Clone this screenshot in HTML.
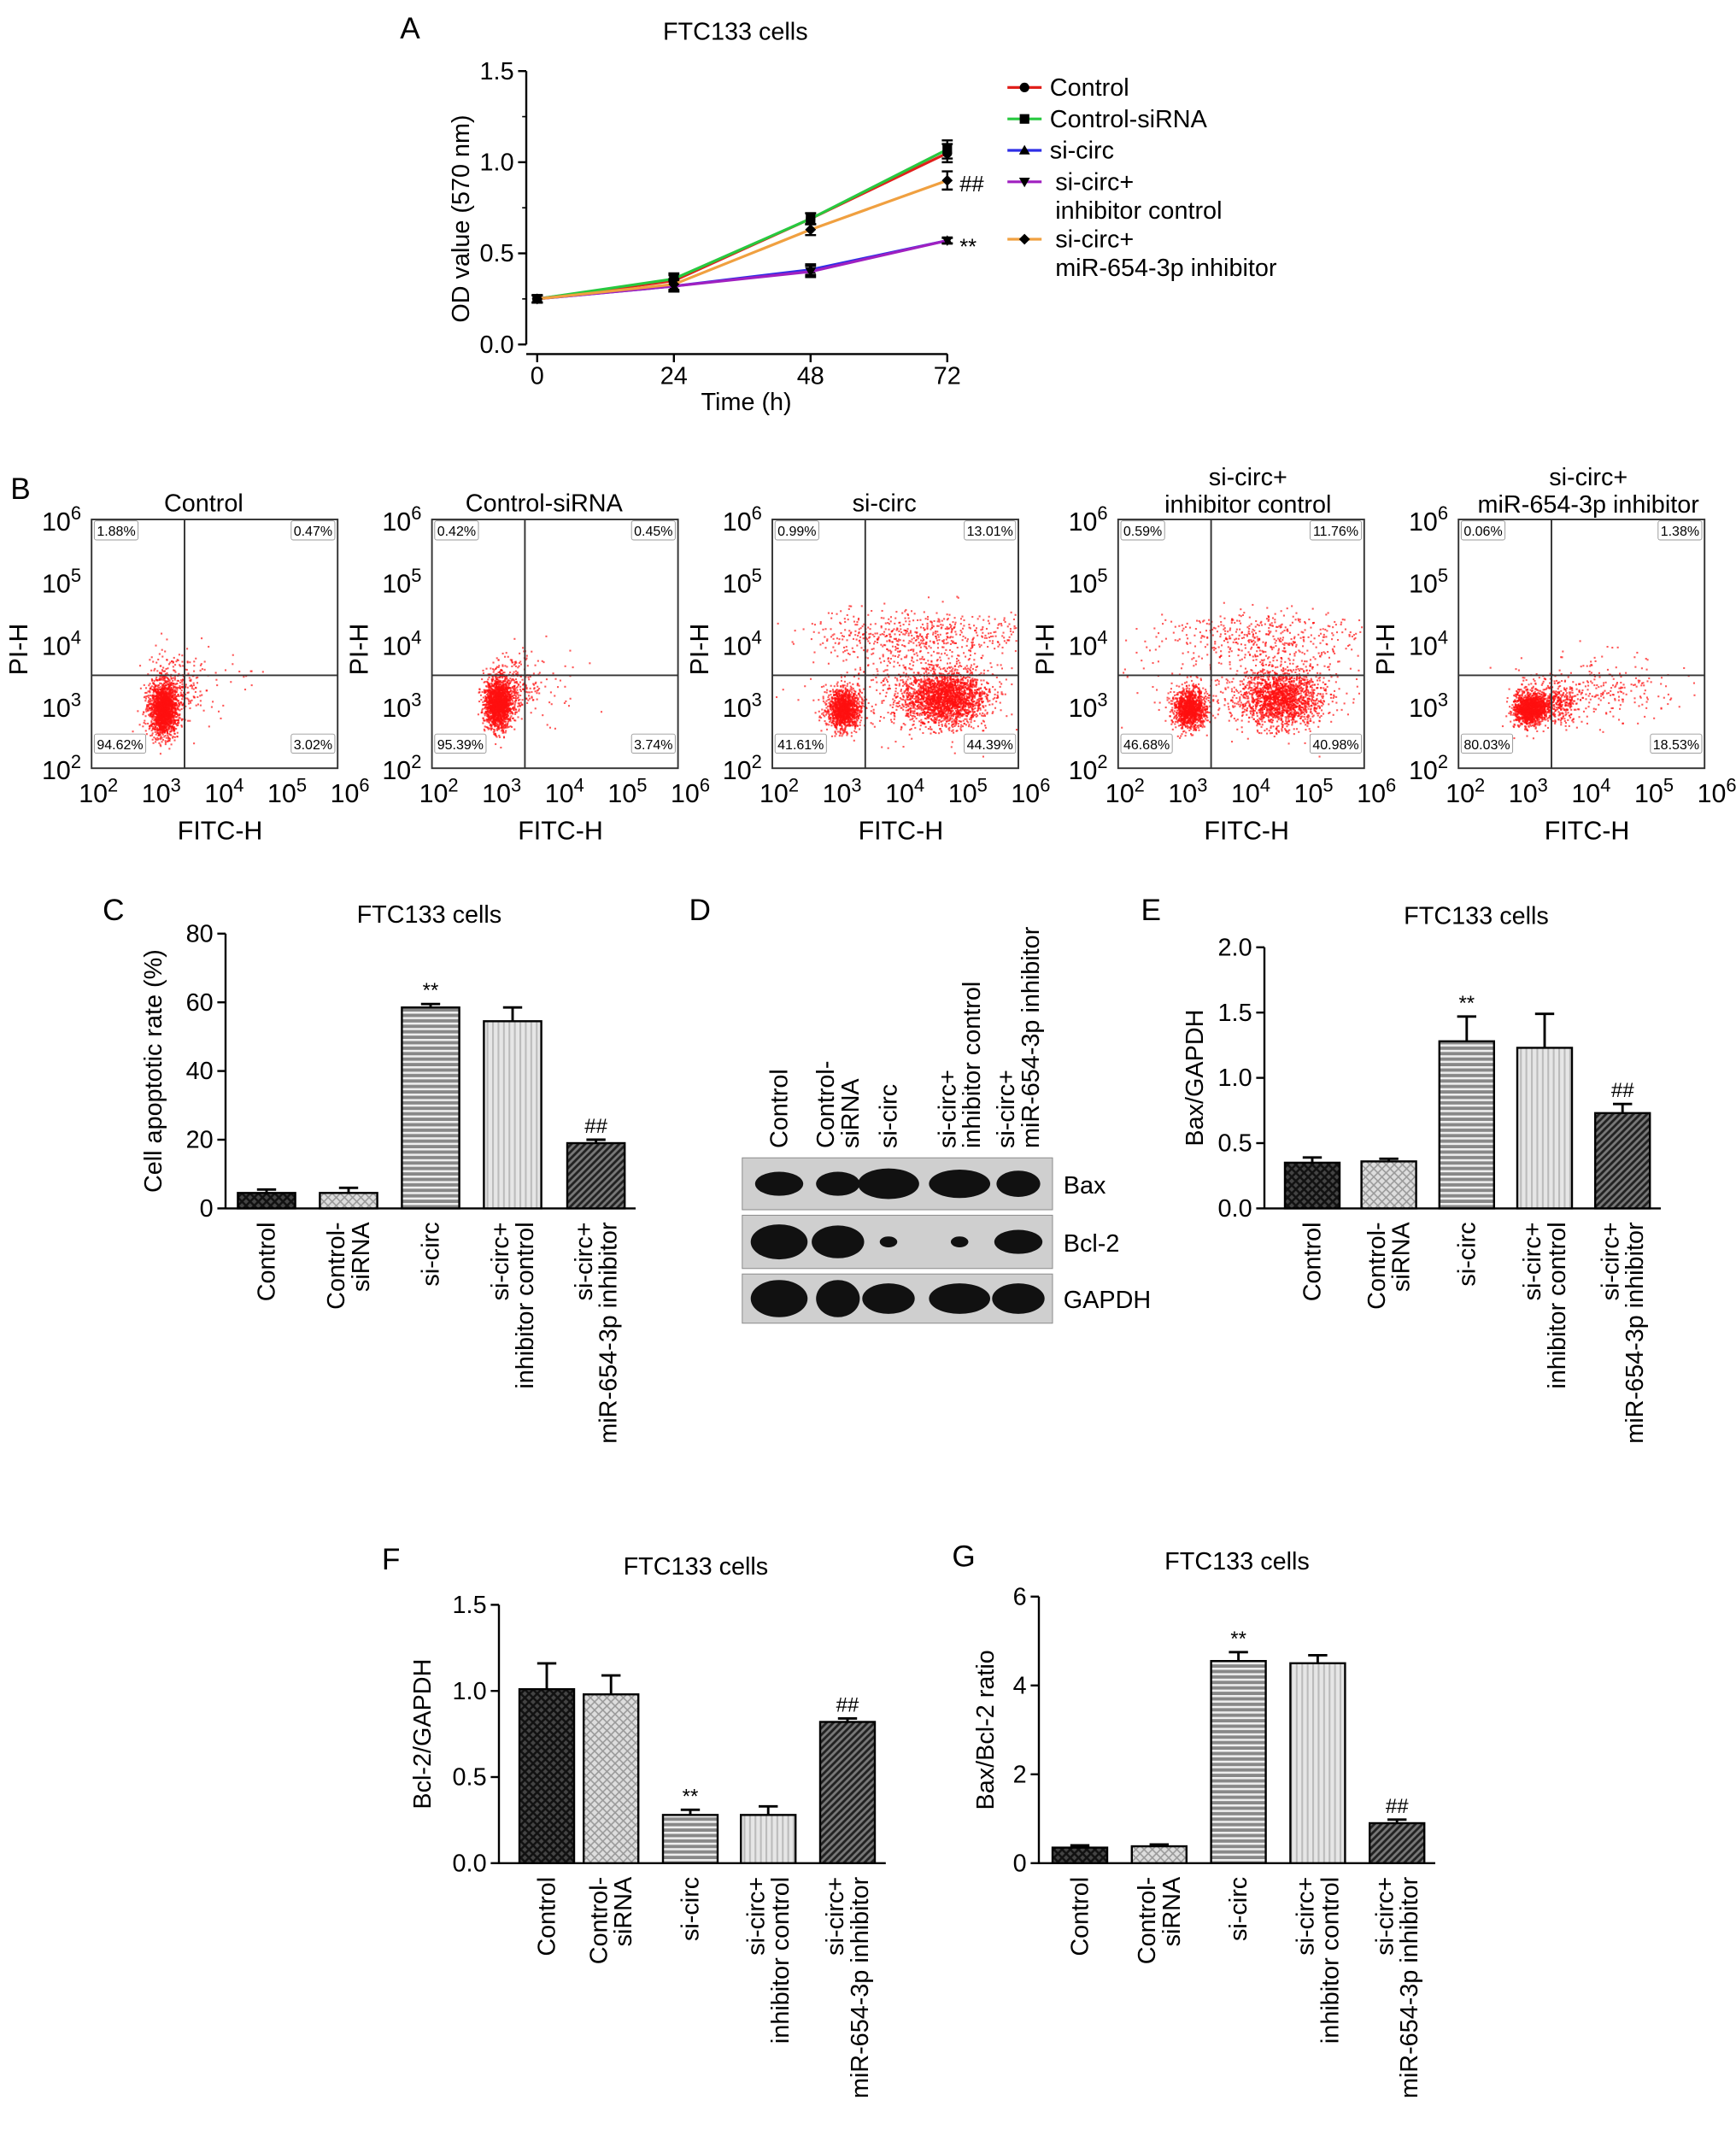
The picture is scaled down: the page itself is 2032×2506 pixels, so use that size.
<!DOCTYPE html>
<html><head><meta charset="utf-8"><style>
html,body{margin:0;padding:0;background:#fff}
svg{display:block;font-family:"Liberation Sans",Arial,sans-serif}
</style></head><body>
<svg id="fig" width="2032" height="2506" viewBox="0 0 1270 1566.25" xmlns="http://www.w3.org/2000/svg">
<defs>
<pattern id="pCross" width="6" height="6" patternUnits="userSpaceOnUse"><rect width="6" height="6" fill="#444"/><path d="M0 0L6 6M6 0L0 6" stroke="#111" stroke-width="1.6"/></pattern>
<pattern id="pCheck" width="6" height="6" patternUnits="userSpaceOnUse"><rect width="6" height="6" fill="#ddd"/><path d="M0 0L6 6M6 0L0 6" stroke="#999" stroke-width="1"/></pattern>
<pattern id="pHor" width="6" height="4" patternUnits="userSpaceOnUse"><rect width="6" height="4" fill="#888"/><rect y="0" width="6" height="1.6" fill="#eee"/></pattern>
<pattern id="pVer" width="4" height="6" patternUnits="userSpaceOnUse"><rect width="4" height="6" fill="#e6e6e6"/><rect x="0" width="1.3" height="6" fill="#bbb"/></pattern>
<pattern id="pDiag" width="5" height="5" patternUnits="userSpaceOnUse"><rect width="5" height="5" fill="#777"/><path d="M-1 6L6 -1M-1 1L1 -1M4 6L6 4" stroke="#222" stroke-width="1.8"/></pattern>
</defs>
</svg>
<script>
// ---------- data ----------
const timeTicks=[0,24,48,72];
const odControl=[0.25,0.35,0.69,1.05];
const odControlSi=[0.25,0.36,0.69,1.07];
const odSiCirc=[0.25,0.32,0.41,0.57];
const odInhCtrl=[0.25,0.32,0.40,0.57];
const odMiRInh=[0.25,0.33,0.63,0.90];
const odErr=[0.02,0.03,0.03,0.05];
const seriesNames=["Control","Control-siRNA","si-circ","si-circ+ inhibitor control","si-circ+ miR-654-3p inhibitor"];
const flowTitles=[["Control"],["Control-siRNA"],["si-circ"],["si-circ+","inhibitor control"],["si-circ+","miR-654-3p inhibitor"]];
const flowUL=["1.88%","0.42%","0.99%","0.59%","0.06%"];
const flowUR=["0.47%","0.45%","13.01%","11.76%","1.38%"];
const flowLL=["94.62%","95.39%","41.61%","46.68%","80.03%"];
const flowLR=["3.02%","3.74%","44.39%","40.98%","18.53%"];
const apopRate=[4.5,4.5,58.5,54.5,19];
const apopErr=[1,1.5,1,4,1];
const baxVals=[0.35,0.36,1.28,1.23,0.73];
const baxErr=[0.04,0.02,0.19,0.26,0.07];
const bclVals=[1.01,0.98,0.28,0.28,0.82];
const bclErr=[0.15,0.11,0.03,0.05,0.02];
const ratioVals=[0.35,0.38,4.55,4.5,0.9];
const ratioErr=[0.05,0.04,0.2,0.18,0.08];
const barLabels=[["Control"],["Control-","siRNA"],["si-circ"],["si-circ+","inhibitor control"],["si-circ+","miR-654-3p inhibitor"]];
const apopTicks=[0,20,40,60,80];
const baxTicks=[0,0.5,1.0,1.5,2.0];
const bclTicks=[0,0.5,1.0,1.5];
const ratioTicks=[0,2,4,6];
// ---------- helpers ----------
const NS="http://www.w3.org/2000/svg";
const svg=document.getElementById('fig');
function mk(tag,attrs,name,parent,txt){
  const el=document.createElementNS(NS,tag);
  for(const k in attrs) el.setAttribute(k,attrs[k]);
  
  
  if(txt!==undefined) el.textContent=txt;
  (parent||svg).appendChild(el);return el;
}
function txt(x,y,s,size,name,opt){opt=opt||{};
  const a={x:x,y:y,'font-size':size,'text-anchor':opt.anchor||'middle',fill:'#000'};
  if(opt.rot) a.transform=`rotate(${opt.rot} ${x} ${y})`;
  if(opt.weight) a['font-weight']=opt.weight;
  return mk('text',a,name,opt.parent,s);}
function pow10(x,y,e,size,name,anchor){
  const t=mk('text',{x:x,y:y,'font-size':size,'text-anchor':anchor||'middle'},name);
  const a=document.createElementNS(NS,'tspan');a.textContent='10';t.appendChild(a);
  const b=document.createElementNS(NS,'tspan');b.textContent=e;b.setAttribute('dy',-8);b.setAttribute('font-size',size*0.72);t.appendChild(b);
  return t;}
// ---------- Panel A ----------
(function(){
  const g=mk('g',{},'panel-a-line-chart');
  const xs=v=>393+v*(300/72), ys=v=>252-v*(200/1.5);
  txt(300,28,'A',22,'panel-a-label');
  txt(538,29,'FTC133 cells',18,'panel-a-title');
  mk('line',{x1:385,y1:ys(1.5),x2:385,y2:ys(0),stroke:'#000','stroke-width':1.5},'y-axis',g);
  mk('line',{x1:385,y1:259,x2:xs(72),y2:259,stroke:'#000','stroke-width':1.5},'x-axis',g);
  [0,0.5,1.0,1.5].forEach(v=>{mk('line',{x1:379,x2:385,y1:ys(v),y2:ys(v),stroke:'#000','stroke-width':1.5},'y-tick',g);
    txt(376,ys(v)+6,v.toFixed(1),18,'y-tick-label',{anchor:'end'});});
  [0.25,0.75,1.25].forEach(v=>mk('line',{x1:382,x2:385,y1:ys(v),y2:ys(v),stroke:'#000'},'y-minor-tick',g));
  timeTicks.forEach(v=>{mk('line',{x1:xs(v),x2:xs(v),y1:259,y2:265,stroke:'#000','stroke-width':1.5},'x-tick',g);
    txt(xs(v),281,String(v),18,'x-tick-label');});
  txt(546,300,'Time (h)',18,'x-axis-title');
  txt(343,160,'OD value (570 nm)',18,'y-axis-title',{rot:-90});
  const S=[[odControl,'#e0201b','circle'],[odControlSi,'#27c93f','square'],[odSiCirc,'#2e2ee6','tri'],[odInhCtrl,'#a020c0','tridown'],[odMiRInh,'#f0a040','diamond']];
  function marker(x,y,shape,name,parent){
    if(shape==='circle')mk('circle',{cx:x,cy:y,r:3.5,fill:'#000'},name,parent);
    else if(shape==='square')mk('rect',{x:x-3.5,y:y-3.5,width:7,height:7,fill:'#000'},name,parent);
    else if(shape==='tri')mk('path',{d:`M${x} ${y-4}L${x+4} ${y+3}L${x-4} ${y+3}Z`,fill:'#000'},name,parent);
    else if(shape==='tridown')mk('path',{d:`M${x} ${y+4}L${x+4} ${y-3}L${x-4} ${y-3}Z`,fill:'#000'},name,parent);
    else mk('path',{d:`M${x} ${y-4}L${x+4} ${y}L${x} ${y+4}L${x-4} ${y}Z`,fill:'#000'},name,parent);}
  S.forEach((s,i)=>{const sg=mk('g',{},'series-'+i,g);
    mk('polyline',{points:s[0].map((v,j)=>xs(timeTicks[j])+','+ys(v)).join(' '),fill:'none',stroke:s[1],'stroke-width':2},'series-line',sg);
    s[0].forEach((v,j)=>{const e=(i===2||i===3)&&j===3?0.015:odErr[j];const x=xs(timeTicks[j]);
      mk('path',{d:`M${x} ${ys(v-e)}V${ys(v+e)}M${x-4} ${ys(v+e)}H${x+4}M${x-4} ${ys(v-e)}H${x+4}`,stroke:'#000','stroke-width':1.5,fill:'none'},'error-bar',sg);
      marker(x,ys(v),s[2],'data-point',sg);});});
  txt(702,140,'##',16,'sig-hash-a',{anchor:'start'});
  txt(702,186,'**',16,'sig-star-a',{anchor:'start'});
  const L=mk('g',{},'legend',g);
  const ly=[64,87,110,133,175];
  S.forEach((s,i)=>{const y=ly[i];
    mk('line',{x1:737,x2:762,y1:y,y2:y,stroke:s[1],'stroke-width':2},'legend-swatch',L);
    marker(749.5,y,s[2],'legend-marker',L);
    if(i<3) txt(768,y+6,seriesNames[i],18,'legend-entry',{anchor:'start',parent:L});
    else {txt(772,y+6,'si-circ+',18,'legend-entry',{anchor:'start',parent:L});
      txt(772,y+27,i===3?'inhibitor control':'miR-654-3p inhibitor',18,'legend-entry',{anchor:'start',parent:L});}
  });
})();
// ---------- Panel B ----------
let seed=12345;function rnd(){seed=(seed*1103515245+12345)%2147483648;return seed/2147483648;}
function gauss(){return Math.sqrt(-2*Math.log(rnd()+1e-9))*Math.cos(2*Math.PI*rnd());}
(function(){
  txt(15,365,'B',22,'panel-b-label');
  const lefts=[67,316,565,818,1067];
  const clouds=[
    [[52,138,5,10,1800],[60,125,9,14,250],[75,120,20,15,60]],
    [[48,134,5,9,1700],[58,122,9,12,250],[75,120,20,15,50]],
    [[52,138,6,7,1300],[125,130,15,10,2200],[110,84,40,9,500],[100,115,40,20,400]],
    [[52,138,6,7,1200],[118,130,15,10,1700],[108,86,35,10,400],[100,115,40,20,300]],
    [[52,138,6,6,1300],[70,134,10,7,400],[100,122,28,12,250]]];
  lefts.forEach((L,p)=>{
    const g=mk('g',{},'flow-plot-'+(p+1));
    const T=380,B=562,R=L+180,qx=L+68,qy=494;
    const tl=flowTitles[p];
    if(tl.length===1) txt(L+82,374,tl[0],18,'flow-title',{parent:g});
    else {txt(L+95,355,tl[0],18,'flow-title',{parent:g});txt(L+95,375,tl[1],18,'flow-title',{parent:g});}
    const cg=mk('g',{fill:'#ff1010'},'scatter-cloud',g);
    clouds[p].forEach(c=>{for(let k=0;k<c[4];k++){const x=L+c[0]+gauss()*c[2],y=T+c[1]+gauss()*c[3];
      if(x>L+1&&x<R-1&&y>T+1&&y<B-1){mk('rect',{x:x,y:y,width:1.3,height:1.3,opacity:0.7},'event-dot',cg);}}});
    mk('rect',{x:L,y:T,width:180,height:182,fill:'none',stroke:'#333','stroke-width':1.2},'plot-frame',g);
    mk('line',{x1:qx,x2:qx,y1:T,y2:B,stroke:'#333','stroke-width':1.2},'quadrant-vline',g);
    mk('line',{x1:L,x2:R,y1:qy,y2:qy,stroke:'#333','stroke-width':1.2},'quadrant-hline',g);
    const box=(x,y,s,anchor,name)=>{const w=s.length*5.6+4;const bx=anchor==='start'?x:x-w;
      mk('rect',{x:bx,y:y-10,width:w,height:14,fill:'#fff',stroke:'#999','stroke-width':0.6,rx:1.5},name+'-box',g);
      txt(bx+w/2,y+1,s,10,name,{parent:g});};
    box(L+2,391,flowUL[p],'start','pct-upper-left');
    box(R-2,391,flowUR[p],'end','pct-upper-right');
    box(L+2,547,flowLL[p],'start','pct-lower-left');
    box(R-2,547,flowLR[p],'end','pct-lower-right');
    const exps=['2','3','4','5','6'];
    exps.forEach((e,i)=>{const y=B-i*45.5;pow10(L-22,y+8,e,19,'y-tick-label','middle');
      const x=L+5+i*46;pow10(x,587,e,19,'x-tick-label','middle');});
    txt(L-47,475,'PI-H',19,'y-axis-title',{rot:-90,parent:g});
    txt(L+94,614,'FITC-H',19,'x-axis-title',{parent:g});
  });
})();
// ---------- Bar charts ----------
const fills=['url(#pCross)','url(#pCheck)','url(#pHor)','url(#pVer)','url(#pDiag)'];
function barChart(o){
  const g=mk('g',{},o.name);
  const ys=v=>o.y0-v*(o.y0-o.yTop)/o.vmax;
  txt(o.lx,o.ly,o.letter,22,'panel-label',{parent:g});
  txt(o.tx,o.ty,'FTC133 cells',18,'chart-title',{parent:g});
  mk('line',{x1:o.ax,x2:o.ax,y1:ys(o.vmax),y2:o.y0,stroke:'#000','stroke-width':1.5},'y-axis',g);
  mk('line',{x1:o.ax,x2:o.centers[4]+o.w/2+8,y1:o.y0,y2:o.y0,stroke:'#000','stroke-width':1.5},'x-axis',g);
  o.ticks.forEach(v=>{mk('line',{x1:o.ax-6,x2:o.ax,y1:ys(v),y2:ys(v),stroke:'#000','stroke-width':1.5},'y-tick',g);
    txt(o.ax-9,ys(v)+6,o.fmt(v),18,'y-tick-label',{anchor:'end',parent:g});});
  txt(o.yl,(o.y0+ys(o.vmax))/2,o.ytitle,18,'y-axis-title',{rot:-90,parent:g});
  o.values.forEach((v,i)=>{const c=o.centers[i],e=o.errs[i];
    mk('path',{d:`M${c} ${ys(v)}V${ys(v+e)}M${c-7} ${ys(v+e)}H${c+7}`,stroke:'#000','stroke-width':1.8},'error-bar',g);
    mk('rect',{x:c-o.w/2,y:ys(v),width:o.w,height:o.y0-ys(v),fill:fills[i],stroke:'#000','stroke-width':1.5},'bar-'+i,g);
    const lb=barLabels[i];
    if(lb.length===1) txt(c+6,o.y0+10,lb[0],18,'x-tick-label',{anchor:'end',rot:-90,parent:g});
    else {txt(c-3,o.y0+10,lb[0],18,'x-tick-label',{anchor:'end',rot:-90,parent:g});txt(c+15,o.y0+10,lb[1],18,'x-tick-label',{anchor:'end',rot:-90,parent:g});}
  });
  txt(o.centers[2],ys(o.values[2]+o.errs[2])-5,'**',15,'sig-star',{parent:g});
  txt(o.centers[4],ys(o.values[4]+o.errs[4])-5,'##',15,'sig-hash',{parent:g});
}
barChart({name:'panel-c-bar-chart',letter:'C',lx:83,ly:673,tx:314,ty:675,ax:165,y0:884,yTop:683,vmax:80,ticks:apopTicks,fmt:v=>String(v),
  centers:[195,255,315,375,436],w:42,values:apopRate,errs:apopErr,ytitle:'Cell apoptotic rate (%)',yl:118});
barChart({name:'panel-e-bar-chart',letter:'E',lx:842,ly:673,tx:1080,ty:676,ax:925,y0:884,yTop:693,vmax:2.0,ticks:baxTicks,fmt:v=>v.toFixed(1),
  centers:[960,1016,1073,1130,1187],w:40,values:baxVals,errs:baxErr,ytitle:'Bax/GAPDH',yl:880});
barChart({name:'panel-f-bar-chart',letter:'F',lx:286,ly:1148,tx:509,ty:1152,ax:365,y0:1363,yTop:1174,vmax:1.5,ticks:bclTicks,fmt:v=>v.toFixed(1),
  centers:[400,447,505,562,620],w:40,values:bclVals,errs:bclErr,ytitle:'Bcl-2/GAPDH',yl:315});
barChart({name:'panel-g-bar-chart',letter:'G',lx:705,ly:1146,tx:905,ty:1148,ax:760,y0:1363,yTop:1168,vmax:6,ticks:ratioTicks,fmt:v=>String(v),
  centers:[790,848,906,964,1022],w:40,values:ratioVals,errs:ratioErr,ytitle:'Bax/Bcl-2 ratio',yl:727});
// ---------- Panel D (western blot) ----------
(function(){
  const g=mk('g',{},'panel-d-western-blot');
  txt(512,673,'D',22,'panel-label',{parent:g});
  const lanes=[570,613,650,702,745];
  const labs=[['Control'],['Control-','siRNA'],['si-circ'],['si-circ+','inhibitor control'],['si-circ+','miR-654-3p inhibitor']];
  labs.forEach((l,i)=>{if(l.length===1)txt(lanes[i]+6,840,l[0],18,'lane-label',{anchor:'start',rot:-90,parent:g});
    else{txt(lanes[i]-3,840,l[0],18,'lane-label',{anchor:'start',rot:-90,parent:g});txt(lanes[i]+15,840,l[1],18,'lane-label',{anchor:'start',rot:-90,parent:g});}});
  const rows=[['Bax',847,885,[[22,11],[20,11],[28,14],[28,13],[20,12]]],
              ['Bcl-2',889,928,[[26,16],[24,15],[8,5],[8,5],[22,11]]],
              ['GAPDH',932,968,[[26,17],[20,17],[24,14],[28,14],[24,14]]]];
  rows.forEach(r=>{mk('rect',{x:543,y:r[1],width:227,height:r[2]-r[1],fill:'#cfcfcf',stroke:'#888','stroke-width':0.6},'blot-strip',g);
    r[3].forEach((b,i)=>mk('ellipse',{cx:lanes[i],cy:(r[1]+r[2])/2,rx:b[0]*0.8,ry:b[1]*0.8,fill:'#111'},'band',g));
    txt(778,(r[1]+r[2])/2+7,r[0],18,'protein-label',{anchor:'start',parent:g});});
})();
</script>
</body></html>
